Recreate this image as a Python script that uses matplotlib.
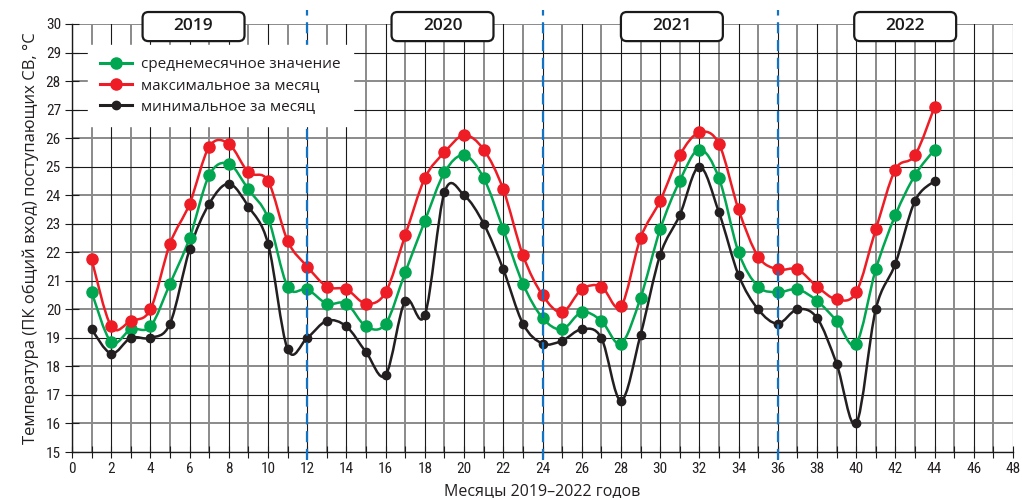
import numpy as np
import matplotlib
matplotlib.use('Agg')
import matplotlib.pyplot as plt
from matplotlib.path import Path
from matplotlib.patches import PathPatch, FancyBboxPatch
from matplotlib.lines import Line2D

# месяцы 2019-2022
months = list(range(1, 45))

t_mean = [20.6, 18.85, 19.3, 19.4, 20.9, 22.5, 24.7, 25.1, 24.2, 23.2, 20.8, 20.7,
          20.2, 20.2, 19.4, 19.5, 21.3, 23.1, 24.8, 25.4, 24.6, 22.8, 20.9, 19.7,
          19.3, 19.9, 19.6, 18.8, 20.4, 22.8, 24.5, 25.6, 24.6, 22.0, 20.8, 20.6,
          20.7, 20.3, 19.6, 18.8, 21.4, 23.3, 24.7, 25.6]
t_max = [21.75, 19.4, 19.6, 20.0, 22.3, 23.7, 25.7, 25.8, 24.8, 24.5, 22.4, 21.5,
         20.8, 20.7, 20.2, 20.6, 22.6, 24.6, 25.5, 26.1, 25.6, 24.2, 21.9, 20.5,
         19.9, 20.7, 20.8, 20.1, 22.5, 23.8, 25.4, 26.2, 25.8, 23.5, 21.85, 21.4,
         21.4, 20.8, 20.35, 20.6, 22.8, 24.9, 25.4, 27.1]
t_min = [19.3, 18.45, 19.0, 19.0, 19.5, 22.1, 23.7, 24.4, 23.6, 22.3, 18.6, 19.0,
         19.6, 19.4, 18.5, 17.7, 20.3, 19.8, 24.1, 24.0, 23.0, 21.4, 19.5, 18.8,
         18.9, 19.3, 19.0, 16.8, 19.1, 21.9, 23.3, 25.0, 23.4, 21.2, 20.0, 19.5,
         20.0, 19.7, 18.1, 16.0, 20.0, 21.6, 23.8, 24.5]

years = ['2019', '2020', '2021', '2022']
year_pos = [6.2, 18.9, 30.6, 42.5]
year_bounds = [12, 24, 36]

labels = ['среднемесячное значение', 'максимальное за месяц', 'минимальное за месяц']
c_green = '#00A650'
c_red = '#EE1C25'
c_black = '#231F20'
c_blue = '#1273C4'

main_font = ['Open Sans', 'DejaVu Sans']
tick_font = ['Liberation Sans Narrow', 'Roboto Condensed', 'DejaVu Sans']


def smooth_path(x, y):
    # сглаженная линия как в Excel (Catmull-Rom -> кубические Безье)
    p = np.column_stack([x, y]).astype(float)
    n = len(p)
    verts = [p[0]]
    codes = [Path.MOVETO]
    for i in range(n - 1):
        p0 = p[i - 1] if i > 0 else p[i]
        p3 = p[i + 2] if i + 2 < n else p[i + 1]
        c1 = p[i] + (p[i + 1] - p0) / 6.0
        c2 = p[i + 1] - (p3 - p[i]) / 6.0
        verts += [c1, c2, p[i + 1]]
        codes += [Path.CURVE4] * 3
    return Path(verts, codes)


fig = plt.figure(figsize=(10.22, 4.98), dpi=100)
ax = fig.add_axes([72/1022, 1 - 452/498, 941/1022, 428/498])
ax.set_xlim(0, 48)
ax.set_ylim(15, 30)

# сетка
for m in range(0, 49):
    if m % 2 == 0:
        ax.axvline(m, color='#1a1a1a', lw=0.8, zorder=0.6)
    else:
        ax.axvline(m, color='#8a8a8a', lw=1.4, zorder=0.5)
for v in range(15, 31):
    if v % 2 == 1:
        ax.axhline(v, color='#1a1a1a', lw=0.8, zorder=0.6)
    else:
        ax.axhline(v, color='#8a8a8a', lw=1.4, zorder=0.5)

for vals, col, ms in [(t_mean, c_green, 8), (t_max, c_red, 8), (t_min, c_black, 6)]:
    ax.add_patch(PathPatch(smooth_path(months, vals), fill=False, edgecolor=col,
                           lw=1.8, zorder=3))
    ax.plot(months, vals, 'o', color=col, ms=ms, mec=col, zorder=3.5)

for b in year_bounds:
    ax.plot([b, b], [14.72, 30.49], color=c_blue, lw=1.6, ls=(0, (5, 3)),
            clip_on=False, zorder=4)

for yr, xc in zip(years, year_pos):
    box = FancyBboxPatch((xc - 2.6, 29.40), 5.2, 1.02,
                         boxstyle='round,pad=0,rounding_size=0.3',
                         mutation_aspect=19.6/28.5,
                         fc='white', ec='#1a1a1a', lw=1.6, clip_on=False, zorder=6)
    ax.add_patch(box)
    ax.text(xc, 29.92, yr, ha='center', va='center', fontsize=12.5, fontweight='semibold',
            family=main_font, color='#1a1a1a', zorder=7, clip_on=False)

handles = [Line2D([], [], color=c_green, lw=2.2, marker='o', ms=8),
           Line2D([], [], color=c_red, lw=2.2, marker='o', ms=8),
           Line2D([], [], color=c_black, lw=2.2, marker='o', ms=6)]
leg = ax.legend(handles, labels, loc='upper left', bbox_to_anchor=(16/941, 407/428),
                borderaxespad=0, fancybox=False, framealpha=1, edgecolor='white',
                handlelength=2.1, handletextpad=0.6, labelspacing=0.39, borderpad=0.8,
                prop={'family': main_font, 'size': 11})
leg.set_zorder(5)
for t in leg.get_texts():
    t.set_color('#231F20')

ax.set_xticks(range(0, 49, 2))
ax.set_xticks(range(0, 49), minor=True)
ax.set_yticks(range(15, 31))
ax.tick_params(axis='both', which='both', direction='inout', color='#1a1a1a')
ax.tick_params(axis='x', which='major', length=9, width=0.8, pad=3)
ax.tick_params(axis='x', which='minor', length=9, width=0.8)
ax.tick_params(axis='y', length=10, width=0.8, pad=3)
for lab in ax.get_xticklabels() + ax.get_yticklabels():
    lab.set_family(tick_font)
    lab.set_fontsize(11)
    lab.set_color('#231F20')

for s in ['top', 'right']:
    ax.spines[s].set_visible(False)
for s in ['left', 'bottom']:
    ax.spines[s].set_color('#1a1a1a')
    ax.spines[s].set_linewidth(1.0)

ax.set_xlabel('Месяцы 2019–2022 годов', family=main_font, fontsize=11.5,
              color='#231F20', labelpad=5)
ax.set_ylabel('Температура (ПК общий вход) поступающих СВ, °С', family=main_font,
              fontsize=12, color='#231F20', labelpad=5)

fig.savefig('out.png', dpi=100)
